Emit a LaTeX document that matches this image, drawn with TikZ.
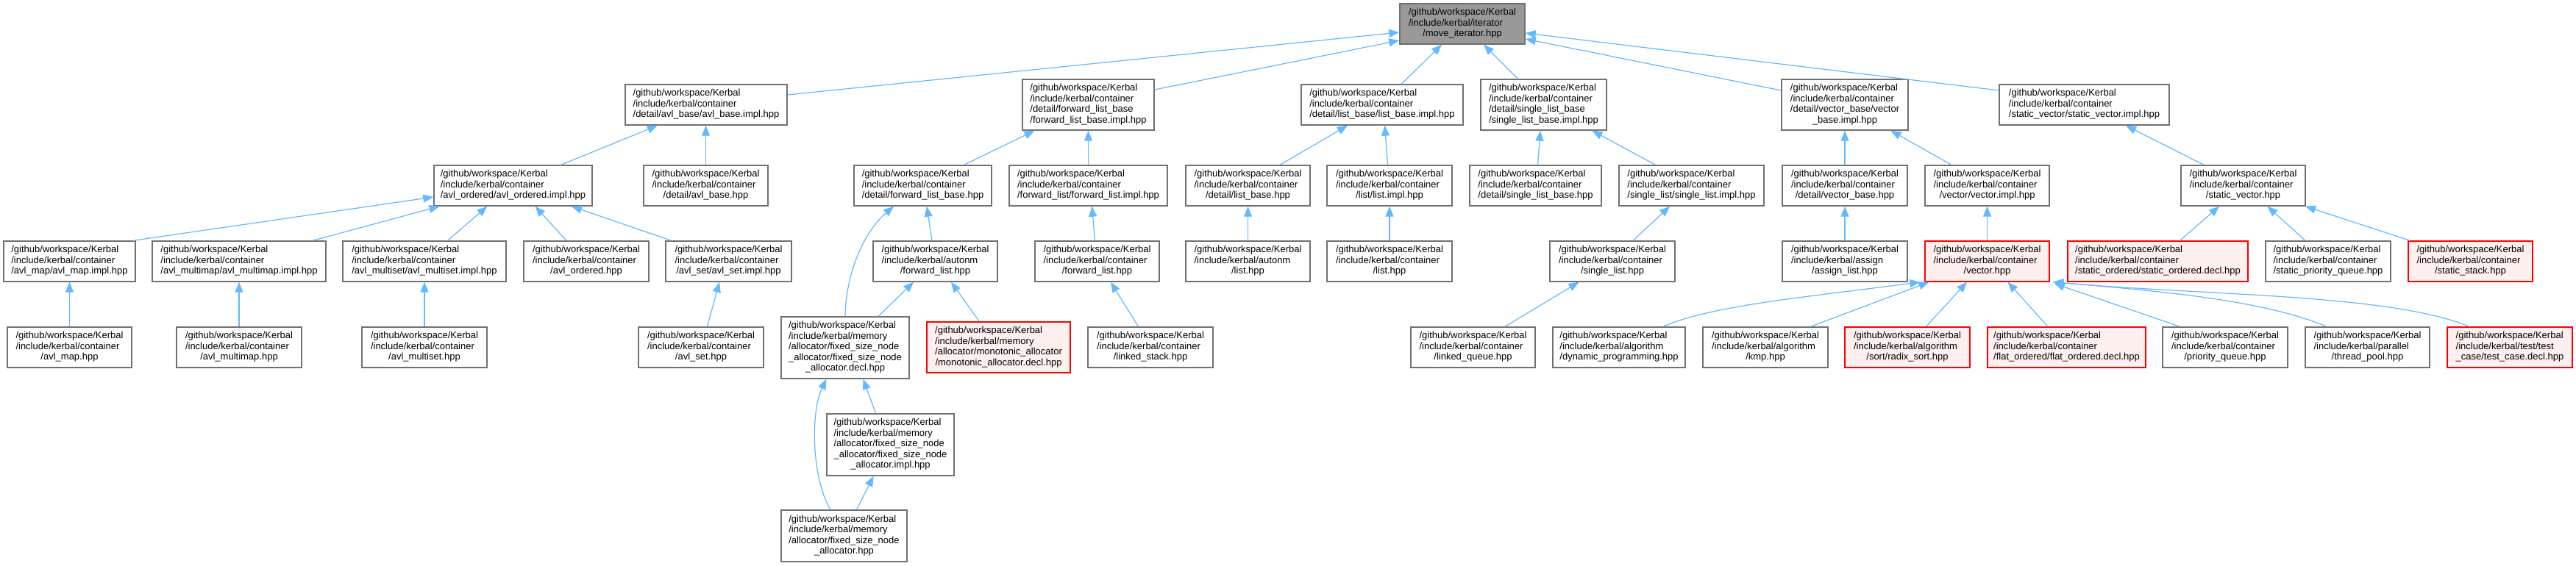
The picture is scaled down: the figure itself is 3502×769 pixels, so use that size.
\documentclass[tikz,border=0pt]{standalone}
\usepackage{fontspec}
\setmainfont{Liberation Sans}
\usetikzlibrary{arrows.meta}
\definecolor{nodeborder}{HTML}{707070}
\definecolor{redfill}{HTML}{FFF0F0}
\definecolor{rootfill}{HTML}{999999}
\definecolor{edgeblue}{HTML}{63B8FF}
\newcommand{\dlabel}[2]{\begin{tabular}{@{}l@{}}#1\\\multicolumn{1}{@{}c@{}}{#2}\end{tabular}}
\newcommand{\gw}{/github/workspace/Kerbal}
\newcommand{\ikc}{/include/kerbal/container}
\tikzset{
  nd/.style={draw=nodeborder, line width=1.4pt, fill=white, inner sep=0pt, text=black,
             font=\fontsize{13}{14.5}\selectfont},
  rednd/.style={nd, draw=red, fill=redfill},
  rootnd/.style={nd, fill=rootfill},
  rthree/.style={minimum height=55pt},
  rfour/.style={minimum height=69pt},
  rfive/.style={minimum height=84pt},
  edge/.style={draw=edgeblue, line width=1.2pt, -{Triangle[length=14pt,width=11pt]}}
}
\begin{document}
\begin{tikzpicture}[x=1pt,y=-1pt]
\fill[white] (0,0) rectangle (3502,769);
\useasboundingbox (0,0) rectangle (3502,769);
% row 1
\node[rootnd,rthree,minimum width=170pt] (root) at (1988,32.5) {\dlabel{\gw\\/include/kerbal/iterator}{/move\_iterator.hpp}};
% row 2
\node[nd,rthree,minimum width=220pt] (avlbi) at (960,142.5) {\dlabel{\gw\\\ikc}{/detail/avl\_base/avl\_base.impl.hpp}};
\node[nd,rfour,minimum width=179pt] (flbi) at (1479.5,142.5) {\dlabel{\gw\\\ikc\\/detail/forward\_list\_base}{/forward\_list\_base.impl.hpp}};
\node[nd,rthree,minimum width=220pt] (lbi) at (1879,142.5) {\dlabel{\gw\\\ikc}{/detail/list\_base/list\_base.impl.hpp}};
\node[nd,rfour,minimum width=171pt] (slbi) at (2098.5,142.5) {\dlabel{\gw\\\ikc\\/detail/single\_list\_base}{/single\_list\_base.impl.hpp}};
\node[nd,rfour,minimum width=172pt] (vbi) at (2508,142.5) {\dlabel{\gw\\\ikc\\/detail/vector\_base/vector}{\_base.impl.hpp}};
\node[nd,rthree,minimum width=231pt] (svi) at (2833.5,142.5) {\dlabel{\gw\\\ikc}{/static\_vector/static\_vector.impl.hpp}};
% row 3
\node[nd,rthree,minimum width=215pt] (avloi) at (697.5,252.5) {\dlabel{\gw\\\ikc}{/avl\_ordered/avl\_ordered.impl.hpp}};
\node[nd,rthree,minimum width=169pt] (avlbh) at (959.5,252.5) {\dlabel{\gw\\\ikc}{/detail/avl\_base.hpp}};
\node[nd,rthree,minimum width=187pt] (flbh) at (1254.5,252.5) {\dlabel{\gw\\\ikc}{/detail/forward\_list\_base.hpp}};
\node[nd,rthree,minimum width=215pt] (fli) at (1479.5,252.5) {\dlabel{\gw\\\ikc}{/forward\_list/forward\_list.impl.hpp}};
\node[nd,rthree,minimum width=169pt] (lbh) at (1696.5,252.5) {\dlabel{\gw\\\ikc}{/detail/list\_base.hpp}};
\node[nd,rthree,minimum width=170pt] (li) at (1889,252.5) {\dlabel{\gw\\\ikc}{/list/list.impl.hpp}};
\node[nd,rthree,minimum width=179pt] (slbh) at (2087.5,252.5) {\dlabel{\gw\\\ikc}{/detail/single\_list\_base.hpp}};
\node[nd,rthree,minimum width=197pt] (sli) at (2299.5,252.5) {\dlabel{\gw\\\ikc}{/single\_list/single\_list.impl.hpp}};
\node[nd,rthree,minimum width=170pt] (vbh) at (2508,252.5) {\dlabel{\gw\\\ikc}{/detail/vector\_base.hpp}};
\node[nd,rthree,minimum width=169pt] (vi) at (2701.5,252.5) {\dlabel{\gw\\\ikc}{/vector/vector.impl.hpp}};
\node[nd,rthree,minimum width=169pt] (svh) at (3049.5,252.5) {\dlabel{\gw\\\ikc}{/static\_vector.hpp}};
% row 4
\node[nd,rthree,minimum width=179pt] (avlmi) at (94.5,355.5) {\dlabel{\gw\\\ikc}{/avl\_map/avl\_map.impl.hpp}};
\node[nd,rthree,minimum width=236pt] (avlmmi) at (325,355.5) {\dlabel{\gw\\\ikc}{/avl\_multimap/avl\_multimap.impl.hpp}};
\node[nd,rthree,minimum width=222pt] (avlmsi) at (577,355.5) {\dlabel{\gw\\\ikc}{/avl\_multiset/avl\_multiset.impl.hpp}};
\node[nd,rthree,minimum width=170pt] (avloh) at (797,355.5) {\dlabel{\gw\\\ikc}{/avl\_ordered.hpp}};
\node[nd,rthree,minimum width=171pt] (avlsi) at (990.5,355.5) {\dlabel{\gw\\\ikc}{/avl\_set/avl\_set.impl.hpp}};
\node[nd,rthree,minimum width=169pt] (aflh) at (1271.5,355.5) {\dlabel{\gw\\/include/kerbal/autonm}{/forward\_list.hpp}};
\node[nd,rthree,minimum width=169pt] (cflh) at (1491.5,355.5) {\dlabel{\gw\\\ikc}{/forward\_list.hpp}};
\node[nd,rthree,minimum width=169pt] (alh) at (1696.5,355.5) {\dlabel{\gw\\/include/kerbal/autonm}{/list.hpp}};
\node[nd,rthree,minimum width=170pt] (clh) at (1889,355.5) {\dlabel{\gw\\\ikc}{/list.hpp}};
\node[nd,rthree,minimum width=170pt] (slh) at (2192,355.5) {\dlabel{\gw\\\ikc}{/single\_list.hpp}};
\node[nd,rthree,minimum width=170pt] (alsh) at (2508,355.5) {\dlabel{\gw\\/include/kerbal/assign}{/assign\_list.hpp}};
\node[rednd,rthree,minimum width=169pt] (vh) at (2701.5,355.5) {\dlabel{\gw\\\ikc}{/vector.hpp}};
\node[rednd,rthree,minimum width=245pt] (sod) at (2933.5,355.5) {\dlabel{\gw\\\ikc}{/static\_ordered/static\_ordered.decl.hpp}};
\node[nd,rthree,minimum width=170pt] (spq) at (3165,355.5) {\dlabel{\gw\\\ikc}{/static\_priority\_queue.hpp}};
\node[rednd,rthree,minimum width=169pt] (ss) at (3358.5,355.5) {\dlabel{\gw\\\ikc}{/static\_stack.hpp}};
% row 5
\node[nd,rthree,minimum width=169pt] (avlmh) at (94.5,472.5) {\dlabel{\gw\\\ikc}{/avl\_map.hpp}};
\node[nd,rthree,minimum width=170pt] (avlmmh) at (325,472.5) {\dlabel{\gw\\\ikc}{/avl\_multimap.hpp}};
\node[nd,rthree,minimum width=170pt] (avlmsh) at (577,472.5) {\dlabel{\gw\\\ikc}{/avl\_multiset.hpp}};
\node[nd,rthree,minimum width=170pt] (avlsh) at (953,472.5) {\dlabel{\gw\\\ikc}{/avl\_set.hpp}};
\node[nd,rfive,minimum width=174pt] (fdecl) at (1149,473) {\dlabel{\gw\\/include/kerbal/memory\\/allocator/fixed\_size\_node\\\_allocator/fixed\_size\_node}{\_allocator.decl.hpp}};
\node[rednd,rfour,minimum width=195pt] (mono) at (1357.5,472.5) {\dlabel{\gw\\/include/kerbal/memory\\/allocator/monotonic\_allocator}{/monotonic\_allocator.decl.hpp}};
\node[nd,rthree,minimum width=170pt] (lsh) at (1564,472.5) {\dlabel{\gw\\\ikc}{/linked\_stack.hpp}};
\node[nd,rthree,minimum width=169pt] (lqh) at (2002.5,472.5) {\dlabel{\gw\\\ikc}{/linked\_queue.hpp}};
\node[nd,rthree,minimum width=180pt] (dph) at (2201,472.5) {\dlabel{\gw\\/include/kerbal/algorithm}{/dynamic\_programming.hpp}};
\node[nd,rthree,minimum width=170pt] (kmp) at (2400,472.5) {\dlabel{\gw\\/include/kerbal/algorithm}{/kmp.hpp}};
\node[rednd,rthree,minimum width=170pt] (rsh) at (2593,472.5) {\dlabel{\gw\\/include/kerbal/algorithm}{/sort/radix\_sort.hpp}};
\node[rednd,rthree,minimum width=215pt] (fod) at (2809.5,472.5) {\dlabel{\gw\\\ikc}{/flat\_ordered/flat\_ordered.decl.hpp}};
\node[nd,rthree,minimum width=170pt] (pqh) at (3025,472.5) {\dlabel{\gw\\\ikc}{/priority\_queue.hpp}};
\node[nd,rthree,minimum width=169pt] (tph) at (3218.5,472.5) {\dlabel{\gw\\/include/kerbal/parallel}{/thread\_pool.hpp}};
\node[rednd,rthree,minimum width=170pt] (tcd) at (3412,472.5) {\dlabel{\gw\\/include/kerbal/test/test}{\_case/test\_case.decl.hpp}};
% rows 6-7
\node[nd,rfive,minimum width=173pt] (fimpl) at (1210.5,605) {\dlabel{\gw\\/include/kerbal/memory\\/allocator/fixed\_size\_node\\\_allocator/fixed\_size\_node}{\_allocator.impl.hpp}};
\node[nd,minimum height=70pt,minimum width=171pt] (fhpp) at (1147.5,729) {\dlabel{\gw\\/include/kerbal/memory\\/allocator/fixed\_size\_node}{\_allocator.hpp}};
% edges to root
\draw[edge] ([yshift=13.5pt]avlbi.east) -- ([yshift=-11.5pt]root.west);
\draw[edge] ([yshift=20.5pt]flbi.east) -- ([yshift=-22.5pt]root.west);
\draw[edge] ([xshift=26pt]lbi.north) -- ([xshift=-28pt]root.south);
\draw[edge] ([xshift=-35pt]slbi.north) -- ([xshift=29pt]root.south);
\draw[edge] ([yshift=19.5pt]vbi.west) -- ([yshift=-20.5pt]root.east);
\draw[edge] ([yshift=19.5pt]svi.west) -- ([yshift=-12.5pt]root.east);
% row 3 -> row 2
\draw[edge] ([xshift=65pt]avloi.north) -- ([xshift=-66pt]avlbi.south);
\draw[edge] (avlbh.north) -- (avlbh.north |- avlbi.south);
\draw[edge] ([xshift=56pt]flbh.north) -- ([xshift=-73pt]flbi.south);
\draw[edge] (fli.north) -- (fli.north |- flbi.south);
\draw[edge] ([xshift=43.5pt]lbh.north) -- ([xshift=-47pt]lbi.south);
\draw[edge] ([xshift=-2.5pt]li.north) -- ([xshift=3.5pt]lbi.south);
\draw[edge] ([xshift=3pt]slbh.north) -- ([xshift=-4.5pt]slbi.south);
\draw[edge] ([xshift=-49pt]sli.north) -- ([xshift=66pt]slbi.south);
\draw[edge] (vbh.north) -- (vbh.north |- vbi.south);
\draw[edge] ([xshift=-48.5pt]vi.north) -- ([xshift=62.5pt]vbi.south);
\draw[edge] ([xshift=-53.5pt]svh.north) -- ([xshift=56.5pt]svi.south);
% row 4 -> row 3
\draw[edge] ([xshift=86.5pt]avlmi.north) -- ([yshift=-15.5pt]avloi.west);
\draw[edge] ([xshift=100pt]avlmmi.north) -- ([xshift=-100pt]avloi.south);
\draw[edge] ([xshift=31.5pt]avlmsi.north) -- ([xshift=-35pt]avloi.south);
\draw[edge] ([xshift=-27pt]avloh.north) -- ([xshift=30pt]avloi.south);
\draw[edge] ([xshift=-78pt]avlsi.north) -- ([xshift=79.5pt]avloi.south);
\draw[edge] ([xshift=-4.5pt]aflh.north) -- ([xshift=5.5pt]flbh.south);
\draw[edge] ([xshift=-3pt]cflh.north) -- ([xshift=5pt]fli.south);
\draw[edge] (alh.north) -- (alh.north |- lbh.south);
\draw[edge] (clh.north) -- (clh.north |- li.south);
\draw[edge] ([xshift=28pt]slh.north) -- ([xshift=-29.5pt]sli.south);
\draw[edge] (alsh.north) -- (alsh.north |- vbh.south);
\draw[edge] (vh.north) -- (vh.north |- vi.south);
\draw[edge] ([xshift=30pt]sod.north) -- ([xshift=-32.5pt]svh.south);
\draw[edge] ([xshift=-31pt]spq.north) -- ([xshift=33pt]svh.south);
\draw[edge] ([xshift=-82pt]ss.north) -- ([xshift=84.5pt]svh.south);
% row 5 -> row 4
\draw[edge] (avlmh.north) -- (avlmh.north |- avlmi.south);
\draw[edge] (avlmmh.north) -- (avlmmh.north |- avlmmi.south);
\draw[edge] (avlmsh.north) -- (avlmsh.north |- avlmsi.south);
\draw[edge] ([xshift=8.5pt]avlsh.north) -- ([xshift=-12.5pt]avlsi.south);
\draw[edge] (fdecl.north) .. controls (1150,370) and (1175,315) .. ([xshift=-39.5pt]flbh.south);
\draw[edge] ([xshift=45pt]fdecl.north) -- ([xshift=-29.5pt]aflh.south);
\draw[edge] ([xshift=-26pt]mono.north) -- ([xshift=21.5pt]aflh.south);
\draw[edge] ([xshift=-16.5pt]lsh.north) -- ([xshift=18.5pt]cflh.south);
\draw[edge] ([xshift=43.5pt]lqh.north) -- ([xshift=-45.5pt]slh.south);
\draw[edge] ([xshift=59.5pt]dph.north) .. controls (2330,415) and (2450,405) .. ([xshift=-6pt]vh.south west);
\draw[edge] ([xshift=61.5pt]kmp.north) -- ([xshift=-79pt]vh.south);
\draw[edge] ([xshift=25.5pt]rsh.north) -- ([xshift=-27.5pt]vh.south);
\draw[edge] ([xshift=-25.5pt]fod.north) -- ([xshift=28pt]vh.south);
\draw[edge] ([xshift=-61.5pt]pqh.north) -- ([xshift=6pt,yshift=-2pt]vh.south east);
\draw[edge] ([xshift=-55.5pt]tph.north) .. controls (3080,410) and (2960,398) .. ([xshift=5pt]vh.south east);
\draw[edge] ([xshift=-55pt]tcd.north) .. controls (3250,400) and (3000,402) .. ([xshift=4pt]vh.south east);
% rows 6-7
\draw[edge] ([xshift=-20pt]fimpl.north) -- ([xshift=24.5pt]fdecl.south);
\draw[edge] ([xshift=-18.5pt]fhpp.north) .. controls (1103,650) and (1102,560) .. ([xshift=-25.5pt]fdecl.south);
\draw[edge] ([xshift=17pt]fhpp.north) -- ([xshift=-23pt]fimpl.south);
\end{tikzpicture}
\end{document}
